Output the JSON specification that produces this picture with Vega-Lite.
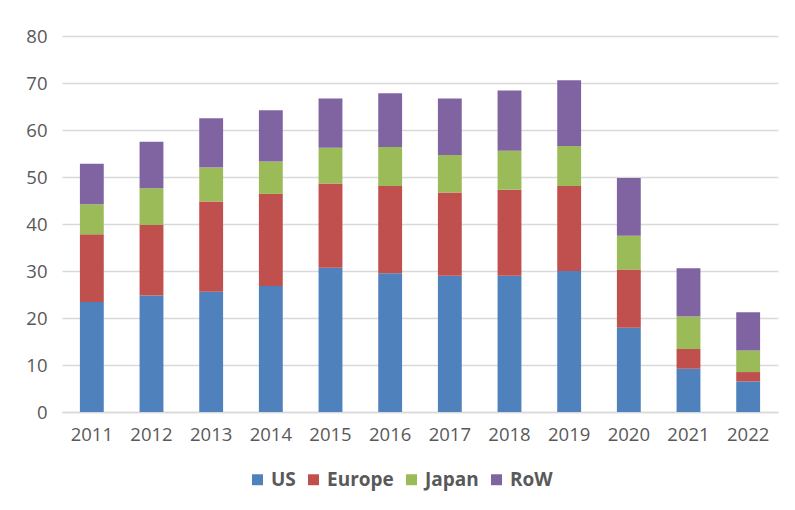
{
  "$schema": "https://vega.github.io/schema/vega-lite/v6.json",
  "autosize": {"type": "none"},
  "width": 716,
  "height": 376,
  "padding": {"left": 62, "top": 36, "right": 17, "bottom": 98},
  "background": "#ffffff",
  "config": {
    "view": {"stroke": null},
    "font": "Open Sans",
    "axis": {"labelFont": "Open Sans", "labelColor": "#595959", "labelFontSize": 18.5, "gridColor": "#d9d9d9", "gridWidth": 1.3, "domainColor": "#d9d9d9", "domainWidth": 1.3, "ticks": false, "title": null}
  },
  "data": {
    "values": [
      {"year": "2011", "region": "US", "rank": 1, "value": 23.4}, {"year": "2011", "region": "Europe", "rank": 2, "value": 14.4}, {"year": "2011", "region": "Japan", "rank": 3, "value": 6.4}, {"year": "2011", "region": "RoW", "rank": 4, "value": 8.6},
      {"year": "2012", "region": "US", "rank": 1, "value": 24.8}, {"year": "2012", "region": "Europe", "rank": 2, "value": 15.0}, {"year": "2012", "region": "Japan", "rank": 3, "value": 7.8}, {"year": "2012", "region": "RoW", "rank": 4, "value": 9.9},
      {"year": "2013", "region": "US", "rank": 1, "value": 25.6}, {"year": "2013", "region": "Europe", "rank": 2, "value": 19.2}, {"year": "2013", "region": "Japan", "rank": 3, "value": 7.2}, {"year": "2013", "region": "RoW", "rank": 4, "value": 10.5},
      {"year": "2014", "region": "US", "rank": 1, "value": 26.8}, {"year": "2014", "region": "Europe", "rank": 2, "value": 19.6}, {"year": "2014", "region": "Japan", "rank": 3, "value": 6.9}, {"year": "2014", "region": "RoW", "rank": 4, "value": 10.9},
      {"year": "2015", "region": "US", "rank": 1, "value": 30.7}, {"year": "2015", "region": "Europe", "rank": 2, "value": 17.9}, {"year": "2015", "region": "Japan", "rank": 3, "value": 7.6}, {"year": "2015", "region": "RoW", "rank": 4, "value": 10.5},
      {"year": "2016", "region": "US", "rank": 1, "value": 29.5}, {"year": "2016", "region": "Europe", "rank": 2, "value": 18.6}, {"year": "2016", "region": "Japan", "rank": 3, "value": 8.3}, {"year": "2016", "region": "RoW", "rank": 4, "value": 11.4},
      {"year": "2017", "region": "US", "rank": 1, "value": 29.0}, {"year": "2017", "region": "Europe", "rank": 2, "value": 17.7}, {"year": "2017", "region": "Japan", "rank": 3, "value": 8.0}, {"year": "2017", "region": "RoW", "rank": 4, "value": 12.0},
      {"year": "2018", "region": "US", "rank": 1, "value": 29.0}, {"year": "2018", "region": "Europe", "rank": 2, "value": 18.3}, {"year": "2018", "region": "Japan", "rank": 3, "value": 8.3}, {"year": "2018", "region": "RoW", "rank": 4, "value": 12.8},
      {"year": "2019", "region": "US", "rank": 1, "value": 30.0}, {"year": "2019", "region": "Europe", "rank": 2, "value": 18.1}, {"year": "2019", "region": "Japan", "rank": 3, "value": 8.5}, {"year": "2019", "region": "RoW", "rank": 4, "value": 14.0},
      {"year": "2020", "region": "US", "rank": 1, "value": 17.9}, {"year": "2020", "region": "Europe", "rank": 2, "value": 12.4}, {"year": "2020", "region": "Japan", "rank": 3, "value": 7.2}, {"year": "2020", "region": "RoW", "rank": 4, "value": 12.3},
      {"year": "2021", "region": "US", "rank": 1, "value": 9.2}, {"year": "2021", "region": "Europe", "rank": 2, "value": 4.2}, {"year": "2021", "region": "Japan", "rank": 3, "value": 6.9}, {"year": "2021", "region": "RoW", "rank": 4, "value": 10.3},
      {"year": "2022", "region": "US", "rank": 1, "value": 6.5}, {"year": "2022", "region": "Europe", "rank": 2, "value": 2.0}, {"year": "2022", "region": "Japan", "rank": 3, "value": 4.6}, {"year": "2022", "region": "RoW", "rank": 4, "value": 8.1}
    ]
  },
  "mark": {"type": "bar"},
  "encoding": {
    "x": {
      "field": "year", "type": "ordinal",
      "scale": {"paddingInner": 0.6, "paddingOuter": 0.3},
      "axis": {"labelAngle": 0, "labelPadding": 13, "grid": false, "domain": true}
    },
    "y": {
      "field": "value", "type": "quantitative", "stack": "zero",
      "scale": {"domain": [0, 80], "nice": false},
      "axis": {"values": [0, 10, 20, 30, 40, 50, 60, 70, 80], "labelPadding": 15, "domain": false, "grid": true}
    },
    "color": {
      "field": "region", "type": "nominal",
      "sort": ["US", "Europe", "Japan", "RoW"],
      "scale": {"domain": ["US", "Europe", "Japan", "RoW"], "range": ["#4F81BD", "#C0504D", "#9BBB59", "#8064A2"]},
      "legend": {
        "title": null, "orient": "none", "direction": "horizontal",
        "legendX": 186, "legendY": 434,
        "symbolType": "square", "symbolSize": 120, "symbolStrokeWidth": 0,
        "labelFont": "Open Sans", "labelFontSize": 19, "labelFontWeight": "bold", "labelColor": "#595959",
        "labelOffset": 4, "columnPadding": 8
      }
    },
    "order": {"field": "rank", "type": "quantitative", "sort": "ascending"}
  }
}
